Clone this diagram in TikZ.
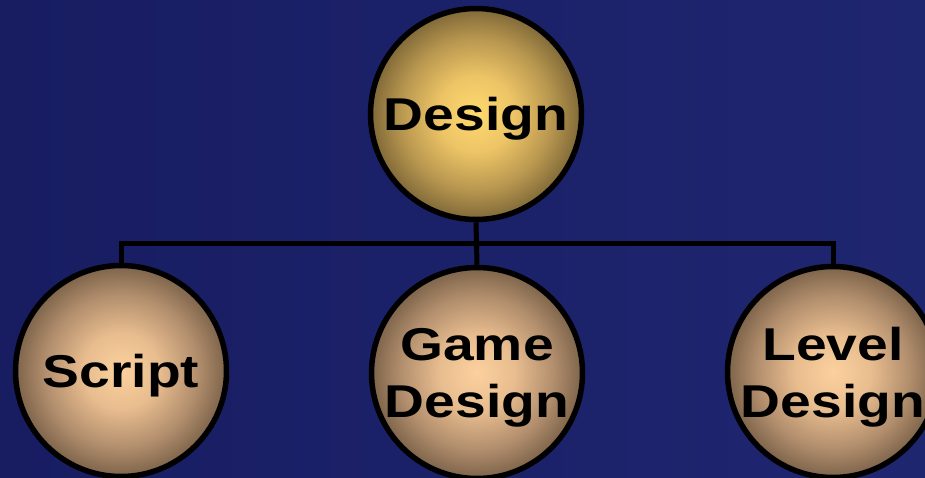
\documentclass[tikz,border=0pt]{standalone}
\usepackage{fontspec}
\newfontfamily\bubblefont[FakeStretch=1.2]{Liberation Sans}
\usetikzlibrary{positioning,calc}

\definecolor{bgleft}{RGB}{24,29,98}
\definecolor{bgright}{RGB}{31,38,112}
\pgfdeclareradialshading{goldball}{\pgfpoint{0bp}{0bp}}{%
  rgb(0bp)=(1,0.85,0.44); rgb(9bp)=(0.93,0.77,0.40); rgb(18bp)=(0.72,0.59,0.31);
  rgb(25bp)=(0.50,0.41,0.22); rgb(50bp)=(0.50,0.41,0.22)}
\pgfdeclareradialshading{peachball}{\pgfpoint{0bp}{0bp}}{%
  rgb(0bp)=(0.99,0.82,0.62); rgb(9bp)=(0.91,0.74,0.56); rgb(18bp)=(0.70,0.56,0.43);
  rgb(25bp)=(0.49,0.39,0.29); rgb(50bp)=(0.49,0.39,0.29)}

\begin{document}
\begin{tikzpicture}[
  x=1pt, y=-1pt,
  every node/.style={font=\bubblefont\bfseries\fontsize{46}{57}\selectfont},
  bubble/.style={circle, draw=black, line width=5.5pt, minimum size=211pt, inner sep=0pt, text depth=0pt, align=center, shading=peachball},
  topbubble/.style={bubble, shading=goldball},
  conn/.style={draw=black, line width=5pt}
]
\useasboundingbox (0,0) rectangle (925,477);
\shade[left color=bgleft, right color=bgright] (0,0) rectangle (925,477);
\node[topbubble] (design) at (476,114) {Design};
\node[bubble] (script) at (121,371) {Script};
\node[bubble] (game) at (477,373) {Game\\Design};
\node[bubble] (level) at (833,372) {Level\\Design};
\draw[conn] (design.south) -- (game.north);
\draw[conn] (script.north) -- (script.north |- 0,243) -| (level.north);
\end{tikzpicture}
\end{document}
